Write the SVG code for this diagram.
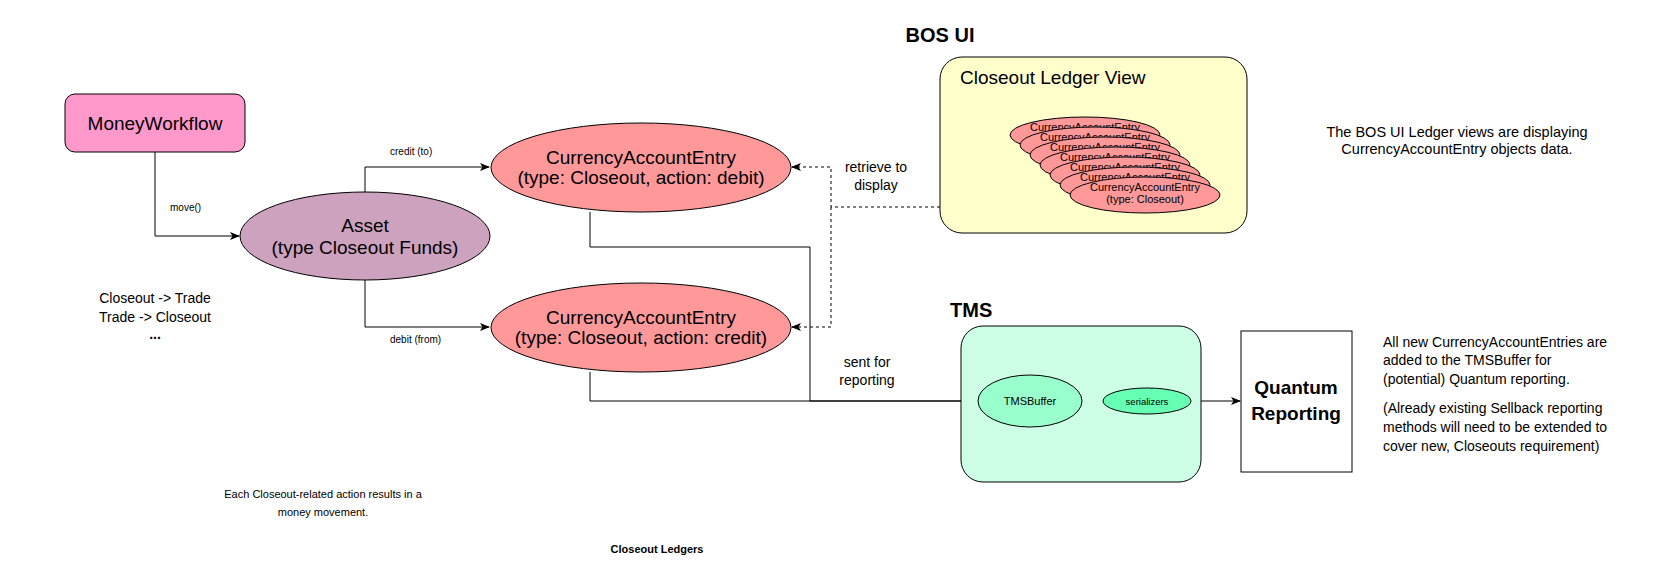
<svg xmlns="http://www.w3.org/2000/svg" width="1654" height="583" viewBox="0 0 1654 583">
<style>
text{font-family:"Liberation Sans",Arial,sans-serif;fill:#000}
.n{stroke:#000;stroke-width:1}
.e{fill:none;stroke:#000;stroke-width:1}
.d{fill:none;stroke:#000;stroke-width:1;stroke-dasharray:3 3}
.c{text-anchor:middle}
.b{font-weight:bold}
</style>
<defs>
<marker id="ar" viewBox="0 0 10 8" refX="9" refY="4" markerWidth="10" markerHeight="8" markerUnits="userSpaceOnUse" orient="auto">
<path d="M0,0 L10,4 L0,8 L2.5,4 z" fill="#000"/>
</marker>
</defs>
<rect width="1654" height="583" fill="#fff"/>

<g id="connectors">
<path class="e" d="M155,152 V236 H239" marker-end="url(#ar)"/>
<path class="e" d="M365,192 V167 H489" marker-end="url(#ar)"/>
<path class="e" d="M365,279 V327 H489" marker-end="url(#ar)"/>
<path class="e" d="M590,212 V247 H810 V401 H977" marker-end="url(#ar)"/>
<path class="e" d="M590,372 V401 H977" marker-end="url(#ar)"/>
<path class="d" d="M940,207 H831 V167 H792" marker-end="url(#ar)"/>
<path class="d" d="M831,207 V327 H792" marker-end="url(#ar)"/>
<path class="e" d="M1083,401 H1102" marker-end="url(#ar)"/>
<path class="e" d="M1201,401 H1240" marker-end="url(#ar)"/>
<text x="170" y="211" font-size="10">move()</text>
<text x="390" y="155" font-size="10">credit (to)</text>
<text x="390" y="343" font-size="10">debit (from)</text>
<text class="c" x="876" y="172" font-size="14">retrieve to</text>
<text class="c" x="876" y="190" font-size="14">display</text>
<text class="c" x="867" y="367" font-size="14">sent for</text>
<text class="c" x="867" y="385" font-size="14">reporting</text>
</g>

<g id="moneyworkflow">
<rect class="n" x="65" y="94" width="180" height="58" rx="10" fill="#FF99CC"/>
<text class="c" x="155" y="130" font-size="19">MoneyWorkflow</text>
</g>

<g id="asset">
<ellipse class="n" cx="365" cy="236" rx="125" ry="44" fill="#CDA2BE"/>
<text class="c" x="365" y="232" font-size="19">Asset</text>
<text class="c" x="365" y="254" font-size="19">(type Closeout Funds)</text>
</g>

<g id="cae-debit">
<ellipse class="n" cx="641" cy="167.5" rx="150" ry="44.5" fill="#FF9999"/>
<text class="c" x="641" y="164" font-size="19">CurrencyAccountEntry</text>
<text class="c" x="641" y="184" font-size="19">(type: Closeout, action: debit)</text>
</g>

<g id="cae-credit">
<ellipse class="n" cx="641" cy="327.5" rx="150" ry="44.5" fill="#FF9999"/>
<text class="c" x="641" y="324" font-size="19">CurrencyAccountEntry</text>
<text class="c" x="641" y="344" font-size="19">(type: Closeout, action: credit)</text>
</g>

<g id="flow-notes">
<text class="c" x="155" y="303" font-size="14">Closeout -&gt; Trade</text>
<text class="c" x="155" y="322" font-size="14">Trade -&gt; Closeout</text>
<text class="c b" x="155" y="339" font-size="14">...</text>
</g>

<g id="bos-ui">
<text class="c b" x="940" y="42" font-size="20">BOS UI</text>
<rect class="n" x="940" y="57" width="307" height="176" rx="22" fill="#FFFFCC"/>
<text x="960" y="84" font-size="19">Closeout Ledger View</text>
<g font-size="11">
<ellipse class="n" cx="1085" cy="135" rx="75" ry="18" fill="#FF9999"/>
<text class="c" x="1085" y="131">CurrencyAccountEntry</text>
<ellipse class="n" cx="1095" cy="145" rx="75" ry="18" fill="#FF9999"/>
<text class="c" x="1095" y="141">CurrencyAccountEntry</text>
<ellipse class="n" cx="1105" cy="155" rx="75" ry="18" fill="#FF9999"/>
<text class="c" x="1105" y="151">CurrencyAccountEntry</text>
<ellipse class="n" cx="1115" cy="165" rx="75" ry="18" fill="#FF9999"/>
<text class="c" x="1115" y="161">CurrencyAccountEntry</text>
<ellipse class="n" cx="1125" cy="175" rx="75" ry="18" fill="#FF9999"/>
<text class="c" x="1125" y="171">CurrencyAccountEntry</text>
<ellipse class="n" cx="1135" cy="185" rx="75" ry="18" fill="#FF9999"/>
<text class="c" x="1135" y="181">CurrencyAccountEntry</text>
<ellipse class="n" cx="1145" cy="195" rx="75" ry="18" fill="#FF9999"/>
<text class="c" x="1145" y="191">CurrencyAccountEntry</text><text class="c" x="1145" y="203">(type: Closeout)</text>
</g>
</g>

<g id="bos-note">
<text class="c" x="1457" y="137" font-size="14.5">The BOS UI Ledger views are displaying</text>
<text class="c" x="1457" y="154" font-size="14.5">CurrencyAccountEntry objects data.</text>
</g>

<g id="tms">
<text class="b" x="950" y="317" font-size="20">TMS</text>
<rect class="n" x="961" y="326" width="240" height="156" rx="22" fill="#CCFFE6"/>
</g>

<g id="tmsbuffer">
<ellipse class="n" cx="1030" cy="401" rx="52" ry="26" fill="#99FFCC"/>
<text class="c" x="1030" y="405" font-size="11">TMSBuffer</text>
</g>

<g id="serializers">
<ellipse class="n" cx="1147" cy="401" rx="44" ry="13" fill="#66FFB3"/>
<text class="c" x="1147" y="404.5" font-size="9.5">serializers</text>
</g>

<g id="quantum">
<rect class="n" x="1241" y="331" width="111" height="141" fill="#fff"/>
<text class="c b" x="1296" y="394" font-size="19">Quantum</text>
<text class="c b" x="1296" y="420" font-size="19">Reporting</text>
</g>

<g id="tms-note" font-size="14">
<text x="1383" y="347">All new CurrencyAccountEntries are</text>
<text x="1383" y="365">added to the TMSBuffer for</text>
<text x="1383" y="384">(potential) Quantum reporting.</text>
<text x="1383" y="413">(Already existing Sellback reporting</text>
<text x="1383" y="432">methods will need to be extended to</text>
<text x="1383" y="451">cover new, Closeouts requirement)</text>
</g>

<g id="movement-note">
<text class="c" x="323" y="498" font-size="11">Each Closeout-related action results in a</text>
<text class="c" x="323" y="516" font-size="11">money movement.</text>
</g>

<g id="title">
<text class="c b" x="657" y="553" font-size="11">Closeout Ledgers</text>
</g>
</svg>
